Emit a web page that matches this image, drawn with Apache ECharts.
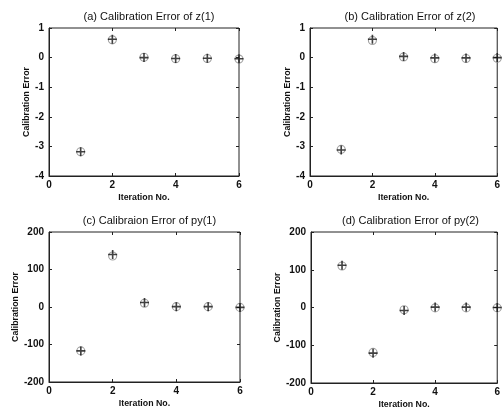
<!DOCTYPE html>
<html><head><meta charset="utf-8">
<script src="https://cdn.jsdelivr.net/npm/echarts@6/dist/echarts.min.js"></script>
<style>html,body{margin:0;padding:0;background:#fff}#c{width:503px;height:413px}</style>
</head><body><div id="c"></div>
<script>
const iterations = [1, 2, 3, 4, 5, 6];
const titles = ['(a) Calibration Error of z(1)', '(b) Calibration Error of z(2)', '(c) Calibraion Error of py(1)', '(d) Calibration Error of py(2)'];
const xTicks = [0, 2, 4, 6];
const z1Plus = [-3.18, 0.62, 0.0, -0.03, -0.02, -0.04];
const z1Circle = [-3.18, 0.6, 0.01, -0.04, -0.03, -0.05];
const z2Plus = [-3.12, 0.62, 0.04, -0.01, -0.01, 0.0];
const z2Circle = [-3.1, 0.58, 0.02, -0.04, -0.03, -0.02];
const py1Plus = [-117, 140, 12, 1, 1, -1];
const py1Circle = [-117, 136, 10, 1, 1, -1];
const py2Plus = [112, -121, -8, 1, 1, 0];
const py2Circle = [110, -119, -6, -1, -1, -1];
const zRange = [-4, 1, 1];
const pyRange = [-200, 200, 100];

const grids = [
  {left: 49, top: 28, width: 190, height: 148},
  {left: 310, top: 28, width: 190, height: 148},
  {left: 49, top: 232, width: 191, height: 150},
  {left: 311, top: 232, width: 189, height: 151}
];
const yNameGaps = [13, 16, 24, 24];
const ranges = [zRange, zRange, pyRange, pyRange];
const plusData = [z1Plus, z2Plus, py1Plus, py2Plus];
const circleData = [z1Circle, z2Circle, py1Circle, py2Circle];
const font = 'Liberation Sans, Arial, sans-serif';
const plusPath = 'path://M4.1,0H5.9V4.1H10V5.9H5.9V10H4.1V5.9H0V4.1H4.1Z';

const option = {
  animation: false,
  backgroundColor: '#fff',
  title: grids.map((g, i) => ({
    text: titles[i], left: g.left + g.width / 2, top: g.top - 22, textAlign: 'center',
    textStyle: {fontFamily: font, fontSize: 11, fontWeight: 'normal', color: '#111'}
  })),
  grid: grids.map(g => Object.assign({show: true, borderColor: '#222', borderWidth: 1, backgroundColor: 'transparent'}, g)),
  xAxis: [],
  yAxis: [],
  series: []
};
grids.forEach((g, i) => {
  const r = ranges[i];
  option.xAxis.push({
    type: 'value', gridIndex: i, min: 0, max: 6, interval: 2, position: 'bottom',
    name: 'Iteration No.', nameLocation: 'middle', nameGap: 17,
    nameTextStyle: {fontFamily: font, fontSize: 8.8, fontWeight: 'bold', color: '#111'},
    axisLine: {show: true, onZero: false, lineStyle: {color: '#222'}},
    axisTick: {show: true, inside: true, length: 3, lineStyle: {color: '#222'}},
    axisLabel: {fontFamily: font, fontSize: 10, fontWeight: 'bold', color: '#111', margin: 4},
    splitLine: {show: false}
  });
  option.xAxis.push({
    type: 'value', gridIndex: i, min: 0, max: 6, interval: 2, position: 'top',
    axisLine: {show: false, onZero: false}, axisLabel: {show: false},
    axisTick: {show: true, inside: true, length: 3, lineStyle: {color: '#222'}},
    splitLine: {show: false}
  });
  option.yAxis.push({
    type: 'value', gridIndex: i, min: r[0], max: r[1], interval: r[2], position: 'left',
    name: 'Calibration Error', nameLocation: 'middle', nameGap: yNameGaps[i],
    nameTextStyle: {fontFamily: font, fontSize: 8.8, fontWeight: 'bold', color: '#111'},
    axisLine: {show: true, onZero: false, lineStyle: {color: '#222'}},
    axisTick: {show: true, inside: true, length: 3, lineStyle: {color: '#222'}},
    axisLabel: {fontFamily: font, fontSize: 10, fontWeight: 'bold', color: '#111', margin: 5},
    splitLine: {show: false}
  });
  option.yAxis.push({
    type: 'value', gridIndex: i, min: r[0], max: r[1], interval: r[2], position: 'right',
    axisLine: {show: false, onZero: false}, axisLabel: {show: false},
    axisTick: {show: true, inside: true, length: 3, lineStyle: {color: '#222'}},
    splitLine: {show: false}
  });
  option.series.push({
    type: 'scatter', xAxisIndex: 2 * i, yAxisIndex: 2 * i,
    data: iterations.map((x, k) => [x, circleData[i][k]]),
    symbol: 'circle', symbolSize: 8,
    itemStyle: {color: 'rgba(255,255,255,0)', borderColor: '#888', borderWidth: 1.1}
  });
  option.series.push({
    type: 'scatter', xAxisIndex: 2 * i, yAxisIndex: 2 * i,
    data: iterations.map((x, k) => [x, plusData[i][k]]),
    symbol: plusPath, symbolSize: 9,
    itemStyle: {color: '#111'}
  });
});
const chart = echarts.init(document.getElementById('c'), null, {renderer: 'canvas'});
chart.setOption(option);
</script>
</body></html>
